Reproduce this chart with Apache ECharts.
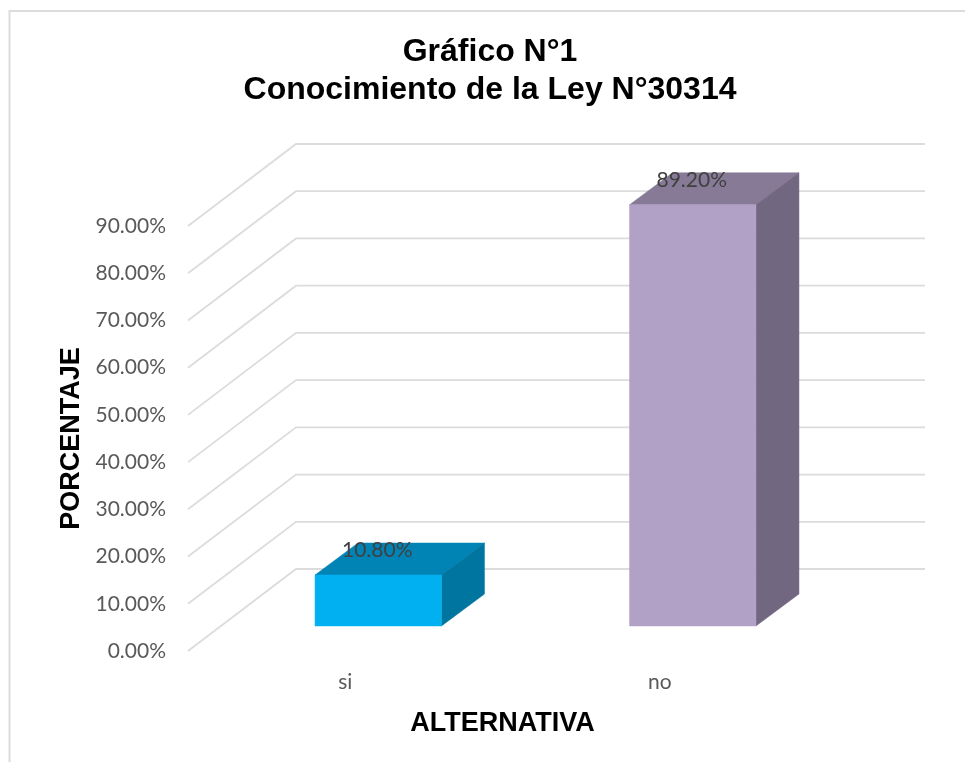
<!DOCTYPE html>
<html><head><meta charset="utf-8">
<style>html,body{margin:0;padding:0;background:#fff}#c{width:965px;height:762px}</style>
<script src="https://cdn.jsdelivr.net/npm/echarts@6/dist/echarts.min.js"></script>
</head><body><div id="c"></div>
<script>
const categories = ['si', 'no'];
const percentages = [10.8, 89.2];
const gridTicks = [0, 10, 20, 30, 40, 50, 60, 70, 80, 90];
const frontColors = ['#00B0F0', '#B2A1C7'];
const topColors = ['#0084B5', '#867A96'];
const sideColors = ['#00759F', '#716780'];

const wallDx = 108, wallDy = -82;
const barFrontDx = 33, barFrontDy = -25;
const barDepthDx = 43, barDepthDy = -32;
const barWidthRatio = 0.402;
const gridColor = '#DCDCDC';
const fmt = v => v.toFixed(2) + '%';

const chart = echarts.init(document.getElementById('c'), null, {renderer: 'canvas'});
chart.setOption({
  animation: false,
  backgroundColor: '#fff',
  title: {
    text: 'Gráfico N°1\nConocimiento de la Ley N°30314',
    left: 485, top: 28, textAlign: 'center',
    textStyle: {fontFamily: 'Liberation Sans', fontWeight: 'bold', fontSize: 32, lineHeight: 38, color: '#000'}
  },
  graphic: [{
    type: 'polyline', silent: true, z: -1,
    shape: {points: [[9.5, 762], [9.5, 11], [965, 11]]},
    style: {stroke: gridColor, lineWidth: 2, fill: null}
  }],
  grid: {left: 188, top: 226, width: 629, height: 425},
  xAxis: {
    type: 'category', data: categories,
    name: 'ALTERNATIVA', nameLocation: 'middle', nameGap: 59,
    nameTextStyle: {fontFamily: 'Liberation Sans', fontWeight: 'bold', fontSize: 27, color: '#000'},
    axisLine: {show: false}, axisTick: {show: false},
    axisLabel: {margin: 21, fontFamily: 'Lato', fontSize: 21, color: '#595959'}
  },
  yAxis: {
    type: 'value', min: 0, max: 90, interval: 10,
    name: 'PORCENTAJE', nameLocation: 'middle', nameGap: 103,
    nameTextStyle: {fontFamily: 'Liberation Sans', fontWeight: 'bold', fontSize: 27, color: '#000'},
    axisLine: {show: false}, axisTick: {show: false}, splitLine: {show: false},
    axisLabel: {margin: 22, padding: [3, 0, 0, 0], fontFamily: 'Lato', fontSize: 21, color: '#595959', formatter: fmt}
  },
  series: [{
    type: 'custom', z: 1, silent: true,
    data: gridTicks.map(t => [0, t]),
    renderItem: (params, api) => {
      const band = api.size([1, 0])[0];
      const p = api.coord([0, api.value(1)]);
      const q = api.coord([categories.length - 1, api.value(1)]);
      const x0 = p[0] - band / 2, y = p[1];
      const x1 = q[0] + band / 2 + wallDx;
      return {
        type: 'polyline',
        shape: {points: [[x0, y], [x0 + wallDx, y + wallDy], [x1, y + wallDy]]},
        style: {stroke: gridColor, lineWidth: 1.8, fill: null}
      };
    }
  }, {
    type: 'custom', z: 2, silent: true,
    data: percentages.map((v, i) => [i, v]),
    renderItem: (params, api) => {
      const i = api.value(0), v = api.value(1);
      const w = api.size([1, 0])[0] * barWidthRatio;
      const top = api.coord([i, v]), base = api.coord([i, 0]);
      const l = top[0] + barFrontDx - w / 2, r = l + w;
      const t = top[1] + barFrontDy, b = base[1] + barFrontDy;
      const dx = barDepthDx, dy = barDepthDy;
      const poly = (pts, c) => ({type: 'polygon', shape: {points: pts}, style: {fill: c, stroke: c, lineWidth: 0.5}});
      return {
        type: 'group',
        children: [
          poly([[l, t], [r, t], [r + dx, t + dy], [l + dx, t + dy]], topColors[i]),
          poly([[r, t], [r + dx, t + dy], [r + dx, b + dy], [r, b]], sideColors[i]),
          poly([[l, t], [r, t], [r, b], [l, b]], frontColors[i]),
          {type: 'text', style: {
            text: fmt(v), x: (l + r) / 2 - 1, y: t - 25,
            align: 'center', verticalAlign: 'middle',
            fontFamily: 'Lato', fontSize: 21, fill: '#404040'
          }}
        ]
      };
    }
  }]
});
</script></body></html>
